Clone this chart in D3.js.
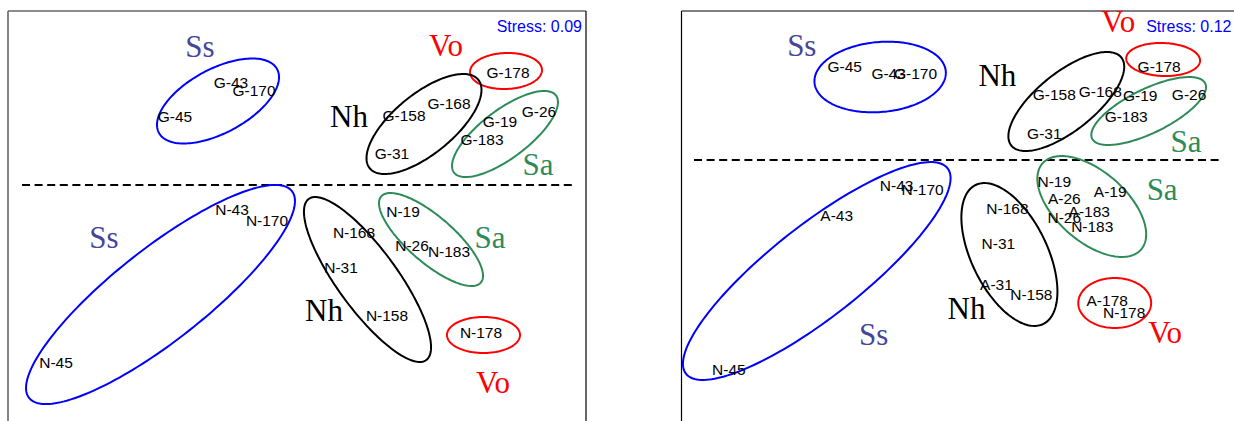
<!DOCTYPE html>
<html><head><meta charset="utf-8">
<script src="https://cdn.jsdelivr.net/npm/d3@7"></script>
<style>body{margin:0;background:#fff;overflow:hidden}</style>
</head><body>
<svg id="chart" width="1234" height="421"></svg>
<script>
// ---------- DATA (NMDS coordinates) ----------
// Left panel
const leftNames = ["G-43","G-170","G-45","G-178","G-158","G-168","G-31","G-19","G-26","G-183",
                   "N-43","N-170","N-45","N-168","N-31","N-158","N-19","N-26","N-183","N-178"];
const leftX = [-0.33,-0.215,-0.61,1.055,0.535,0.76,0.475,1.015,1.21,0.925,
               -0.325,-0.15,-1.205,0.285,0.22,0.45,0.53,0.575,0.76,0.92];
const leftY = [0.69,0.65,0.52,0.74,0.525,0.585,0.335,0.495,0.545,0.405,
               0.055,0.0,-0.71,-0.06,-0.235,-0.475,0.045,-0.125,-0.155,-0.56];
const leftStress = "Stress: 0.09";
const leftDivider = {y: 0.18, x0: -1.375, x1: 1.39};
// group labels
const leftGroupLabel = ["Ss","Vo","Nh","Sa","Ss","Nh","Sa","Vo"];
const leftGroupLabelX = [-0.485,0.745,0.26,1.205,-0.965,0.135,0.965,0.98];
const leftGroupLabelY = [0.87,0.875,0.52,0.28,-0.085,-0.45,-0.085,-0.81];
// ellipses: group, centre, semi-axes, angle (deg, data space)
const leftEllGroup = ["Ss","Vo","Nh","Sa","Ss","Nh","Sa","Vo"];
const leftEllCX = [-0.395,1.045,0.635,1.04,-0.6825,0.3525,0.67,0.9325];
const leftEllCY = [0.6,0.75,0.485,0.435,-0.3675,-0.2925,-0.0925,-0.57];
const leftEllA  = [0.3356,0.18,0.3502,0.3195,0.8362,0.4985,0.3293,0.1825];
const leftEllB  = [0.16,0.09,0.15,0.12,0.23,0.15,0.115,0.09];
const leftEllAng= [28.3,2,39.2,37.1,38.2,-53.9,-40.9,0];

// Right panel
const rightNames = ["G-45","G-43","G-170","G-158","G-168","G-31","G-19","G-26","G-183","G-178",
                    "N-43","N-170","A-43","N-45","N-168","N-31","A-31","N-158",
                    "N-19","A-26","A-19","N-26","A-183","N-183","A-178","N-178"];
const rightX = [-0.57,-0.35,-0.215,0.48,0.71,0.43,0.91,1.155,0.84,1.005,
                -0.31,-0.18,-0.61,-1.15,0.245,0.2,0.19,0.365,
                0.48,0.53,0.76,0.53,0.655,0.67,0.745,0.83];
const rightY = [0.77,0.735,0.735,0.63,0.645,0.435,0.625,0.63,0.52,0.77,
                0.175,0.155,0.025,-0.745,0.06,-0.115,-0.32,-0.37,
                0.195,0.11,0.145,0.015,0.045,-0.03,-0.4,-0.46];
const rightStress = "Stress: 0.12";
const rightDivider = {y: 0.305, x0: -1.325, x1: 1.32};
const rightGroupLabel = ["Ss","Nh","Vo","Sa","Ss","Nh","Sa","Vo"];
const rightGroupLabelX = [-0.785,0.195,0.8,1.14,-0.425,0.04,1.02,1.035];
const rightGroupLabelY = [0.875,0.725,0.995,0.395,-0.57,-0.44,0.155,-0.56];
const rightEllGroup = ["Ss","Nh","Vo","Sa","Ss","Nh","Sa","Vo"];
const rightEllCX = [-0.3925,0.54,1.025,0.9525,-0.71,0.255,0.6675,0.7825];
const rightEllCY = [0.72,0.5975,0.8075,0.55,-0.25,-0.1675,0.0725,-0.41];
const rightEllA  = [0.33,0.3527,0.185,0.315,0.8325,0.3865,0.3275,0.1825];
const rightEllB  = [0.175,0.145,0.0825,0.11,0.23,0.19,0.175,0.125];
const rightEllAng= [5,38.6,-2,26,38.1,-64,-41,0];

// ---------- STYLE ----------
const ellColor = {Ss:"#0000ff", Nh:"#000000", Sa:"#2e8b57", Vo:"#ff0000"};
const labelColor = {Ss:"#45459a", Nh:"#000000", Sa:"#2e8b57", Vo:"#ff0000"};

const svg = d3.select("#chart");

const panels = [
  {names:leftNames, xs:leftX, ys:leftY, stress:leftStress, div:leftDivider,
   gl:leftGroupLabel, glx:leftGroupLabelX, gly:leftGroupLabelY,
   eg:leftEllGroup, ecx:leftEllCX, ecy:leftEllCY, ea:leftEllA, eb:leftEllB, eang:leftEllAng,
   xRange:[8,586], xDomain:[-1.445,1.445], rightBorder:true, frameColor:"#666", frameW:1.6},
  {names:rightNames, xs:rightX, ys:rightY, stress:rightStress, div:rightDivider,
   gl:rightGroupLabel, glx:rightGroupLabelX, gly:rightGroupLabelY,
   eg:rightEllGroup, ecx:rightEllCX, ecy:rightEllCY, ea:rightEllA, eb:rightEllB, eang:rightEllAng,
   xRange:[681.5,1235.5], xDomain:[-1.3875,1.3875], rightBorder:false, frameColor:"#000", frameW:1.2}
];

panels.forEach(p => {
  const x = d3.scaleLinear().domain(p.xDomain).range(p.xRange);
  const y = d3.scaleLinear().domain([-1.05,1.05]).range([431,11]);
  const g = svg.append("g");

  // frame
  const [x0,x1] = p.xRange;
  g.append("line").attr("x1",x0).attr("x2",x0).attr("y1",y(1.05)).attr("y2",y(-1.05))
    .attr("stroke",p.frameColor).attr("stroke-width",p.frameW);
  g.append("line").attr("x1",x0).attr("x2",x1).attr("y1",y(1.05)).attr("y2",y(1.05))
    .attr("stroke",p.frameColor).attr("stroke-width",p.frameW);
  if (p.rightBorder) {
    g.append("line").attr("x1",x1).attr("x2",x1).attr("y1",y(1.05)).attr("y2",y(-1.05))
      .attr("stroke","#000").attr("stroke-width",1.2);
  }

  // divider
  g.append("line").attr("x1",x(p.div.x0)).attr("x2",x(p.div.x1))
    .attr("y1",y(p.div.y)).attr("y2",y(p.div.y))
    .attr("stroke","#000").attr("stroke-width",2).attr("stroke-dasharray","8,4.6");

  // ellipses
  const line = d3.line().x(d=>x(d[0])).y(d=>y(d[1])).curve(d3.curveLinearClosed);
  p.eg.forEach((grp,i) => {
    const th = p.eang[i]*Math.PI/180, a=p.ea[i], b=p.eb[i];
    const pts = d3.range(0,2*Math.PI,Math.PI/90).map(t => [
      p.ecx[i] + a*Math.cos(t)*Math.cos(th) - b*Math.sin(t)*Math.sin(th),
      p.ecy[i] + a*Math.cos(t)*Math.sin(th) + b*Math.sin(t)*Math.cos(th)
    ]);
    g.append("path").attr("d",line(pts)).attr("fill","none")
      .attr("stroke",ellColor[grp]).attr("stroke-width",2);
  });

  // sample labels
  g.selectAll("text.s").data(p.names).join("text").attr("class","s")
    .attr("x",(d,i)=>x(p.xs[i])).attr("y",(d,i)=>y(p.ys[i])).attr("dy","0.35em")
    .attr("text-anchor","middle").attr("font-family","'Liberation Sans',Arial,sans-serif")
    .attr("font-size",15.5).attr("fill","#000").text(d=>d);

  // group labels
  g.selectAll("text.gl").data(p.gl).join("text").attr("class","gl")
    .attr("x",(d,i)=>x(p.glx[i])).attr("y",(d,i)=>y(p.gly[i])).attr("dy","0.33em")
    .attr("text-anchor","middle").attr("font-family","'Liberation Serif','Times New Roman',serif")
    .attr("font-size",31).attr("fill",d=>labelColor[d]).text(d=>d);

  // stress
  g.append("text").attr("x",x1 - 4).attr("y",26).attr("dy","0.35em")
    .attr("text-anchor","end").attr("font-family","'Liberation Sans',Arial,sans-serif")
    .attr("font-size",16).attr("fill","#0000ff").text(p.stress);
});
</script>
</body></html>
